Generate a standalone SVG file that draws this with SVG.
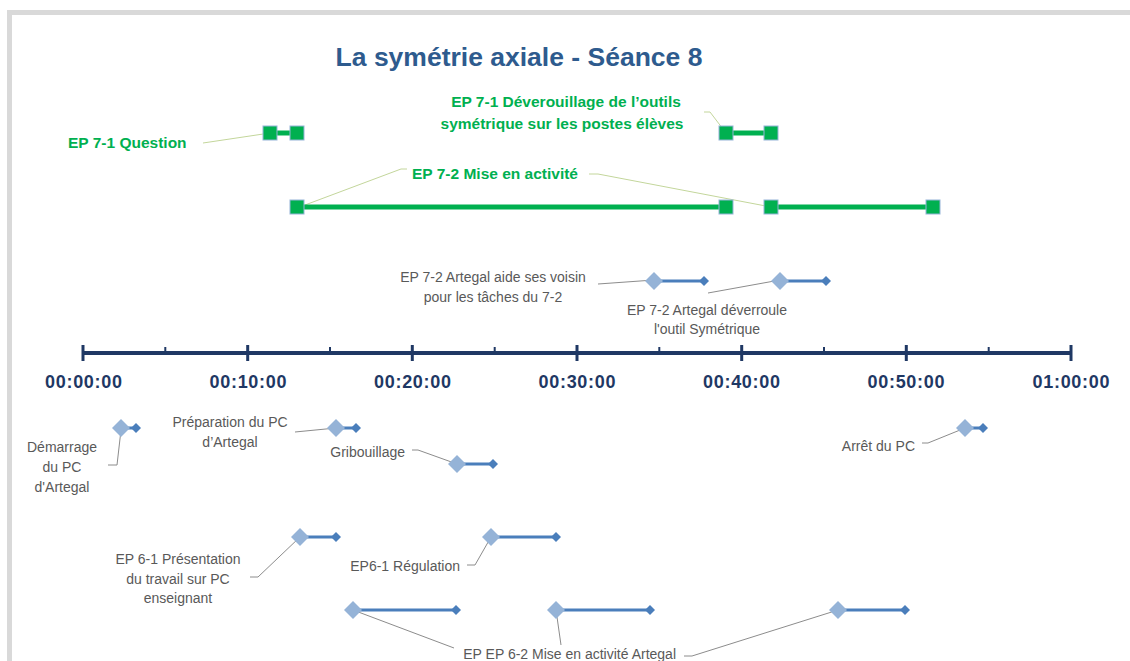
<svg xmlns="http://www.w3.org/2000/svg" width="1130" height="661" viewBox="0 0 1130 661">
<defs>
<style>
.title{font-family:"Liberation Sans",Arial,sans-serif;font-weight:bold;font-size:26.5px;fill:#2e5b8e}
.gl{font-family:"Liberation Sans",Arial,sans-serif;font-weight:bold;font-size:15.5px;fill:#00b050}
.ax{font-family:"Liberation Sans",Arial,sans-serif;font-weight:bold;font-size:18px;fill:#1f3864}
.lb{font-family:"Liberation Sans",Arial,sans-serif;font-size:14px;fill:#595959}
.c{text-anchor:middle}
.e{text-anchor:end}
.gline{stroke:#00b050;stroke-width:5;fill:none}
.gsq{fill:#00b050;stroke:#95b3d7;stroke-width:1}
.bline{stroke:#4a7ebb;stroke-width:3;fill:none}
.bd{fill:#95b3d7}
.be{fill:#4a7ebb}
.gld{stroke:#c3d69b;stroke-width:1;fill:none}
.bld{stroke:#8c8c8c;stroke-width:1;fill:none}
.axl{stroke:#1f3864;fill:none}
</style>
<rect id="sq" x="-7" y="-7" width="14" height="14" class="gsq"/>
<path id="dia" d="M0,-9 L9,0 L0,9 L-9,0 Z" class="bd"/>
<path id="dend" d="M0,-5 L5,0 L0,5 L-5,0 Z" class="be"/>
</defs>
<rect width="1130" height="661" fill="#ffffff"/>
<path d="M9.5,661 V12.5 H1130" stroke="#d9d9d9" stroke-width="5" fill="none"/>
<text class="title c" x="519" y="66">La symétrie axiale - Séance 8</text>

<g id="axis">
<line x1="83" y1="353" x2="1071" y2="353" class="axl" stroke-width="4"/>
<g class="axl" stroke-width="3">
<line x1="83" y1="345" x2="83" y2="361"/><line x1="247.7" y1="345" x2="247.7" y2="361"/><line x1="412.3" y1="345" x2="412.3" y2="361"/><line x1="577" y1="345" x2="577" y2="361"/><line x1="741.7" y1="345" x2="741.7" y2="361"/><line x1="906.3" y1="345" x2="906.3" y2="361"/><line x1="1071" y1="345" x2="1071" y2="361"/>
</g>
<g class="axl" stroke-width="2">
<line x1="165.3" y1="347" x2="165.3" y2="353"/><line x1="330" y1="347" x2="330" y2="353"/><line x1="494.7" y1="347" x2="494.7" y2="353"/><line x1="659.3" y1="347" x2="659.3" y2="353"/><line x1="824" y1="347" x2="824" y2="353"/><line x1="988.7" y1="347" x2="988.7" y2="353"/>
</g>
<text class="ax c" x="83.5" y="388" textLength="77" lengthAdjust="spacing">00:00:00</text>
<text class="ax c" x="248" y="388" textLength="77" lengthAdjust="spacing">00:10:00</text>
<text class="ax c" x="412.5" y="388" textLength="77" lengthAdjust="spacing">00:20:00</text>
<text class="ax c" x="577" y="388" textLength="77" lengthAdjust="spacing">00:30:00</text>
<text class="ax c" x="741.5" y="388" textLength="77" lengthAdjust="spacing">00:40:00</text>
<text class="ax c" x="906" y="388" textLength="77" lengthAdjust="spacing">00:50:00</text>
<text class="ax c" x="1071" y="388" textLength="77" lengthAdjust="spacing">01:00:00</text>
</g>

<g id="connectors">
<polyline class="gld" points="203,143 270,133"/>
<polyline class="gld" points="704,112 710,112 726,133"/>
<polyline class="gld" points="407,169 401,169 297,208"/>
<polyline class="gld" points="589,174 598,174 771,207"/>
<polyline class="bld" points="598,284 654,280"/>
<polyline class="bld" points="708,293 780,280"/>
<polyline class="bld" points="108,465 117,465 121,430"/>
<polyline class="bld" points="295,432 336,428"/>
<polyline class="bld" points="412,450 418,450 457,464"/>
<polyline class="bld" points="922,443 928,443 965,428"/>
<polyline class="bld" points="250,577 258,577 300,537"/>
<polyline class="bld" points="467,565 475,565 491,537"/>
<polyline class="bld" points="454,648 353,610"/>
<polyline class="bld" points="561,645 556,610"/>
<polyline class="bld" points="684,656 692,656 838,610"/>
</g>

<g id="ep71-question">
<line x1="270" y1="133" x2="297" y2="133" class="gline"/>
<use href="#sq" x="270" y="133"/><use href="#sq" x="297" y="133"/>
<text class="gl" x="68" y="148">EP 7-1 Question</text>
</g>
<g id="ep71-deverouillage">
<line x1="726" y1="133" x2="771" y2="133" class="gline"/>
<use href="#sq" x="726" y="133"/><use href="#sq" x="771" y="133"/>
<text class="gl c" x="566" y="107">EP 7-1 Déverouillage de l’outils</text>
<text class="gl c" x="562" y="129">symétrique sur les postes élèves</text>
</g>
<g id="ep72-mise">
<line x1="297" y1="207" x2="726" y2="207" class="gline"/>
<line x1="771" y1="207" x2="933" y2="207" class="gline"/>
<use href="#sq" x="297" y="207"/><use href="#sq" x="726" y="207"/><use href="#sq" x="771" y="207"/><use href="#sq" x="933" y="207"/>
<text class="gl" x="412" y="179">EP 7-2 Mise en activité</text>
</g>

<g id="ep72-aide">
<line x1="654" y1="281" x2="704" y2="281" class="bline"/>
<use href="#dia" x="654" y="281"/><use href="#dend" x="704" y="281"/>
<text class="lb c" x="493" y="282">EP 7-2 Artegal aide ses voisin</text>
<text class="lb c" x="493" y="302">pour les tâches du 7-2</text>
</g>
<g id="ep72-deverroule">
<line x1="780" y1="281" x2="826" y2="281" class="bline"/>
<use href="#dia" x="780" y="281"/><use href="#dend" x="826" y="281"/>
<text class="lb c" x="707" y="315">EP 7-2 Artegal déverroule</text>
<text class="lb c" x="707" y="334">l'outil Symétrique</text>
</g>

<g id="demarrage">
<line x1="121" y1="428" x2="136" y2="428" class="bline"/>
<use href="#dia" x="121" y="428"/><use href="#dend" x="136" y="428"/>
<text class="lb c" x="62" y="452">Démarrage</text>
<text class="lb c" x="62" y="472">du PC</text>
<text class="lb c" x="62" y="492">d'Artegal</text>
</g>
<g id="preparation">
<line x1="336" y1="428" x2="356" y2="428" class="bline"/>
<use href="#dia" x="336" y="428"/><use href="#dend" x="356" y="428"/>
<text class="lb c" x="230" y="427">Préparation du PC</text>
<text class="lb c" x="230" y="447">d’Artegal</text>
</g>
<g id="gribouillage">
<line x1="457" y1="464" x2="493" y2="464" class="bline"/>
<use href="#dia" x="457" y="464"/><use href="#dend" x="493" y="464"/>
<text class="lb e" x="405" y="457">Gribouillage</text>
</g>
<g id="arret">
<line x1="965" y1="428" x2="983" y2="428" class="bline"/>
<use href="#dia" x="965" y="428"/><use href="#dend" x="983" y="428"/>
<text class="lb e" x="915" y="451">Arrêt du PC</text>
</g>

<g id="ep61-presentation">
<line x1="300" y1="537" x2="336" y2="537" class="bline"/>
<use href="#dia" x="300" y="537"/><use href="#dend" x="336" y="537"/>
<text class="lb c" x="178" y="564">EP 6-1 Présentation</text>
<text class="lb c" x="178" y="584">du travail sur PC</text>
<text class="lb c" x="178" y="603">enseignant</text>
</g>
<g id="ep61-regulation">
<line x1="491" y1="537" x2="556" y2="537" class="bline"/>
<use href="#dia" x="491" y="537"/><use href="#dend" x="556" y="537"/>
<text class="lb e" x="460" y="571">EP6-1 Régulation</text>
</g>

<g id="ep62-mise">
<line x1="353" y1="610" x2="456" y2="610" class="bline"/>
<use href="#dia" x="353" y="610"/><use href="#dend" x="456" y="610"/>
<line x1="556" y1="610" x2="650" y2="610" class="bline"/>
<use href="#dia" x="556" y="610"/><use href="#dend" x="650" y="610"/>
<line x1="838" y1="610" x2="905" y2="610" class="bline"/>
<use href="#dia" x="838" y="610"/><use href="#dend" x="905" y="610"/>
<text class="lb e" x="676" y="659">EP EP 6-2 Mise en activité Artegal</text>
</g>
</svg>
